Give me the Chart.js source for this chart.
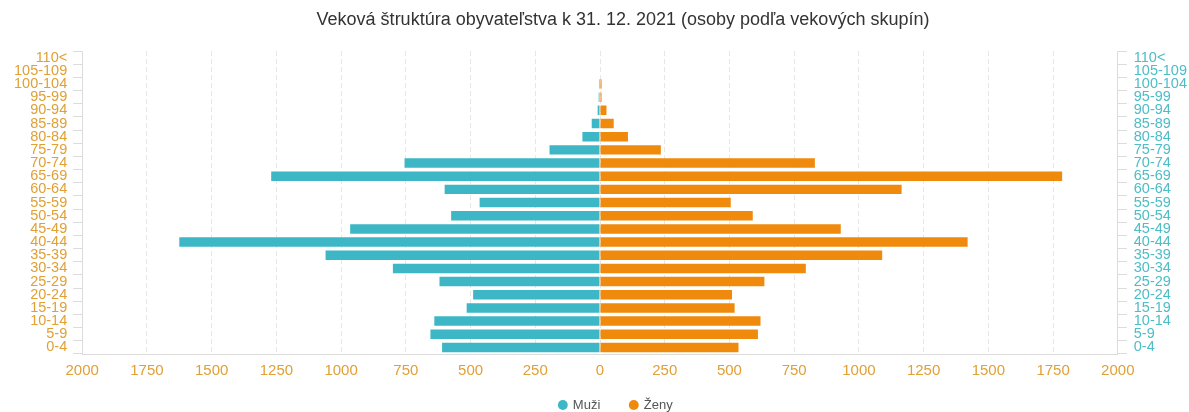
<!DOCTYPE html>
<html>
<head>
<meta charset="utf-8">
<script src="https://cdn.jsdelivr.net/npm/chart.js@4.4.1/dist/chart.umd.min.js"></script>
<style>
  html, body { margin: 0; padding: 0; background: #fff; }
  #wrap { width: 1189px; height: 412px; position: relative; }
</style>
</head>
<body>
<div id="wrap"><canvas id="c"></canvas></div>
<script>
const ageGroups = ["0-4","5-9","10-14","15-19","20-24","25-29","30-34","35-39","40-44","45-49","50-54","55-59","60-64","65-69","70-74","75-79","80-84","85-89","90-94","95-99","100-104","105-109","110<"];
const men   = [610, 655, 640, 515, 490, 620, 800, 1060, 1625, 965, 575, 465, 600, 1270, 755, 195, 68, 32, 9, 5, 4, 0, 0];
const women = [535, 610, 620, 520, 510, 635, 795, 1090, 1420, 930, 590, 505, 1165, 1785, 830, 235, 108, 53, 25, 6, 6, 0, 0];
const xTicks = [-2000,-1750,-1500,-1250,-1000,-750,-500,-250,0,250,500,750,1000,1250,1500,1750,2000];
const seriesNames = ["Muži", "Ženy"];
const titleText = "Veková štruktúra obyvateľstva k 31. 12. 2021 (osoby podľa vekových skupín)";

Chart.defaults.font.family = "'Liberation Sans', Arial, sans-serif";

const LEG_PAD = 30;
const legendTweak = {
  id: 'legendTweak',
  afterInit(chart) {
    const lg = chart.legend;
    if (!lg) return;
    const origFit = lg.fit;
    lg.fit = function () { origFit.call(this); this.height = 32; };
  },
  afterLayout(chart) {
    const lg = chart.legend;
    if (lg) {
      lg.top = chart.height - 6.5 - LEG_PAD - 7;
      lg.bottom = chart.height;
      lg.left += 30;
    }
    const tb = chart.titleBlock;
    if (tb) { tb.left += 44; }
  }
};

new Chart(document.getElementById('c'), {
  type: 'bar',
  data: {
    labels: ageGroups,
    datasets: [
      { label: seriesNames[0], data: men.map(v => -v), backgroundColor: '#3DB7C6', borderWidth: 0, barPercentage: 0.72, categoryPercentage: 1 },
      { label: seriesNames[1], data: women, backgroundColor: '#EF8A0C', borderWidth: 0, barPercentage: 0.72, categoryPercentage: 1 }
    ]
  },
  plugins: [legendTweak],
  options: {
    indexAxis: 'y',
    responsive: true,
    maintainAspectRatio: false,
    animation: false,
    layout: { padding: { left: 8, right: -5, top: 0, bottom: 0 } },
    plugins: {
      title: {
        display: true, text: titleText, color: '#333',
        font: { size: 18, weight: 'normal' },
        padding: { top: 9, bottom: 20.5 }
      },
      legend: {
        position: 'bottom',
        labels: { usePointStyle: true, pointStyle: 'circle', boxWidth: 7, boxHeight: 7, color: '#555', font: { size: 13 }, padding: LEG_PAD }
      },
      tooltip: { enabled: false }
    },
    scales: {
      x: {
        stacked: true, min: -2000, max: 2000,
        afterBuildTicks: ax => { ax.ticks = xTicks.map(v => ({ value: v })); },
        afterFit: s => { s.height = 26; },
        ticks: { color: '#E0A035', font: { size: 15 }, callback: v => Math.abs(v), maxRotation: 0, padding: 8 },
        grid: { color: '#e6e6e6', drawTicks: false, tickLength: 0 },
        border: { color: '#dcdcdc', dash: [5, 3] }
      },
      y: {
        stacked: true, reverse: true, position: 'left',
        ticks: { color: '#E0A035', font: { size: 14.5, lineHeight: 1 }, autoSkip: false, padding: 6 },
        grid: { drawOnChartArea: false, drawTicks: true, tickLength: 9, color: '#dcdcdc', offset: true },
        border: { color: '#dcdcdc' }
      },
      y2: {
        type: 'category', labels: ageGroups, reverse: true, position: 'right', display: true,
        ticks: { color: '#4DBDC6', font: { size: 14.5, lineHeight: 1 }, autoSkip: false, padding: 7 },
        grid: { drawOnChartArea: false, drawTicks: true, tickLength: 9, color: '#dcdcdc', offset: true },
        border: { color: '#dcdcdc' }
      }
    }
  }
});
</script>
</body>
</html>
